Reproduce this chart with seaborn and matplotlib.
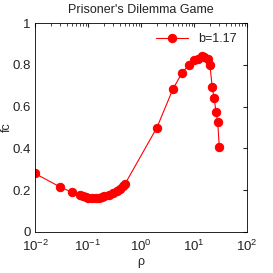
import numpy as np
import matplotlib
matplotlib.use('Agg')
import matplotlib.pyplot as plt
import seaborn as sns
import pandas as pd

rho = [0.01, 0.03, 0.05, 0.07, 0.08, 0.09, 0.1, 0.12, 0.14, 0.16, 0.18, 0.2,
       0.25, 0.3, 0.35, 0.4, 0.45, 0.5, 2, 4, 6, 8, 10, 12, 14, 15.5, 18, 20,
       22, 24, 26, 28, 30]
fc = [0.28, 0.215, 0.19, 0.178, 0.17, 0.166, 0.165, 0.163, 0.162, 0.163, 0.166, 0.17,
      0.178, 0.187, 0.197, 0.208, 0.218, 0.23, 0.5, 0.684, 0.763, 0.80, 0.824, 0.827,
      0.84, 0.837, 0.827, 0.80, 0.694, 0.641, 0.575, 0.527, 0.406]
label = "b=1.17"

sns.set_style("white")
plt.rcParams['font.family'] = ['Liberation Sans Narrow', 'Liberation Sans', 'DejaVu Sans']
plt.rcParams['mathtext.fontset'] = 'custom'
plt.rcParams['mathtext.rm'] = 'Liberation Sans Narrow'
plt.rcParams['text.color'] = '#222222'

df = pd.DataFrame({"rho": rho, "fc": fc})

fig = plt.figure(figsize=(2.73, 2.73), dpi=100)
ax = fig.add_axes([35/273, 1-232/273, 212/273, 209/273])
sns.lineplot(data=df, x="rho", y="fc", ax=ax, color="red", lw=0.8,
             marker="o", markersize=6, markeredgecolor="red", label=label)
ax.set_xscale("log")
ax.set_xlim(1e-2, 1e2)
ax.set_ylim(0, 1)
ax.set_yticks([0, 0.2, 0.4, 0.6, 0.8, 1])
ax.set_yticklabels(["0", "0.2", "0.4", "0.6", "0.8", "1"])
ax.tick_params(which="both", direction="in", top=True, right=True, labelsize=9.5,
               pad=3, labelcolor="#222222")
ax.tick_params(axis="x", which="both", pad=5)
ax.tick_params(which="major", length=3)
ax.tick_params(which="minor", length=1.8)
for s in ax.spines.values():
    s.set_linewidth(0.6)
    s.set_color("black")
ax.set_xlabel("ρ", fontsize=9)
ax.set_ylabel("fc", fontsize=9)
ax.xaxis.set_label_coords(0.5, -0.115)
ax.yaxis.set_label_coords(-0.104, 0.5)
ax.set_title("Prisoner's Dilemma Game", fontsize=9, pad=7)
leg = ax.legend(loc="upper right", frameon=False, fontsize=9, handlelength=2.6,
                borderaxespad=0.4)
fig.savefig("out.png", dpi=100)
